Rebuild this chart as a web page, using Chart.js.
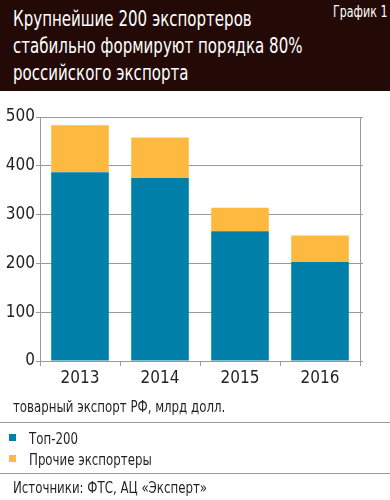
<!DOCTYPE html>
<html><head><meta charset="utf-8">
<script src="https://cdn.jsdelivr.net/npm/chart.js@4/dist/chart.umd.min.js"></script>
<style>
html,body{margin:0;padding:0;background:#fff;}
body{width:390px;height:500px;position:relative;overflow:hidden;font-family:"DejaVu Sans",sans-serif;font-stretch:condensed;color:#231f20;}
#head{position:absolute;left:0;top:0;width:390px;height:91px;background:#230a07;}
#title{position:absolute;left:13px;top:5px;color:#fff;font-size:22px;line-height:27px;white-space:nowrap;transform:scaleX(0.76);transform-origin:0 0;}
#tag{position:absolute;left:333px;top:3px;color:#fff;font-size:15px;white-space:nowrap;transform:scaleX(0.82);transform-origin:0 0;}
#wrap{position:absolute;left:0;top:91px;width:390px;height:309px;}
.t{position:absolute;font-size:16px;white-space:nowrap;transform:scaleX(0.82);transform-origin:0 0;}
#sub{left:13px;top:397px;}
.sep{position:absolute;left:0;width:390px;height:0;border-top:1px solid #9a9a9a;}
.sq{position:absolute;left:9px;width:7px;height:7px;}
#src{left:13px;top:478px;}
</style></head>
<body>
<div id="head"><div id="title">Крупнейшие 200 экспортеров<br>стабильно формируют порядка 80%<br>российского экспорта</div><div id="tag">График 1</div></div>
<div id="wrap"><canvas id="c" width="390" height="309"></canvas></div>
<div id="sub" class="t">товарный экспорт РФ, млрд долл.</div>
<div class="sep" style="top:422px"></div>
<div class="sq" style="top:434px;background:#0080a9"></div>
<div class="t" style="left:29px;top:429px">Топ-200</div>
<div class="sq" style="top:455px;background:#fdb940"></div>
<div class="t" style="left:29px;top:450px">Прочие экспортеры</div>
<div class="sep" style="top:473px"></div>
<div id="src" class="t">Источники: ФТС, АЦ «Эксперт»</div>
<script>
const years = ["2013", "2014", "2015", "2016"];
const top200 = [387, 375, 266, 203];
const others = [96, 83, 48, 54];
const yTicks = [0, 100, 200, 300, 400, 500];

const font = {family: '"DejaVu Sans", sans-serif', size: 17};
const condense = {
  id: 'condense',
  beforeInit(chart) { try { chart.ctx.fontStretch = 'condensed'; } catch (e) {} },
  beforeDraw(chart) { try { chart.ctx.fontStretch = 'condensed'; } catch (e) {} }
};
new Chart(document.getElementById('c'), {
  type: 'bar',
  plugins: [condense],
  data: {
    labels: years,
    datasets: [
      {label: 'Топ-200', data: top200, backgroundColor: '#0080a9', categoryPercentage: 0.72, barPercentage: 1},
      {label: 'Прочие экспортеры', data: others, backgroundColor: '#fdb940', categoryPercentage: 0.72, barPercentage: 1}
    ]
  },
  options: {
    responsive: false, animation: false,
    layout: {padding: {top: 26, right: 27, left: 0, bottom: 0}},
    plugins: {legend: {display: false}, tooltip: {enabled: false}},
    scales: {
      x: {
        stacked: true,
        grid: {display: true, offset: true, drawOnChartArea: false, tickLength: 5, color: '#9a9a9a'},
        border: {display: true, color: '#9a9a9a'},
        ticks: {color: '#231f20', font: font, padding: 2},
        afterFit: s => { s.height = 39; }
      },
      y: {
        stacked: true, min: 0, max: 500,
        afterBuildTicks: s => { s.ticks = yTicks.map(v => ({value: v})); },
        grid: {color: '#9a9a9a', tickLength: 4},
        border: {display: true, color: '#9a9a9a'},
        ticks: {color: '#231f20', font: font, padding: 1},
        afterFit: s => { s.width = 40; }
      },
      y2: {
        position: 'right', min: 0, max: 500,
        afterBuildTicks: s => { s.ticks = yTicks.map(v => ({value: v})); },
        grid: {drawOnChartArea: false, tickLength: 3, color: '#9a9a9a'},
        border: {display: true, color: '#9a9a9a'},
        ticks: {display: false},
        afterFit: s => { s.width = 3; }
      }
    }
  }
});
</script>
</body></html>
